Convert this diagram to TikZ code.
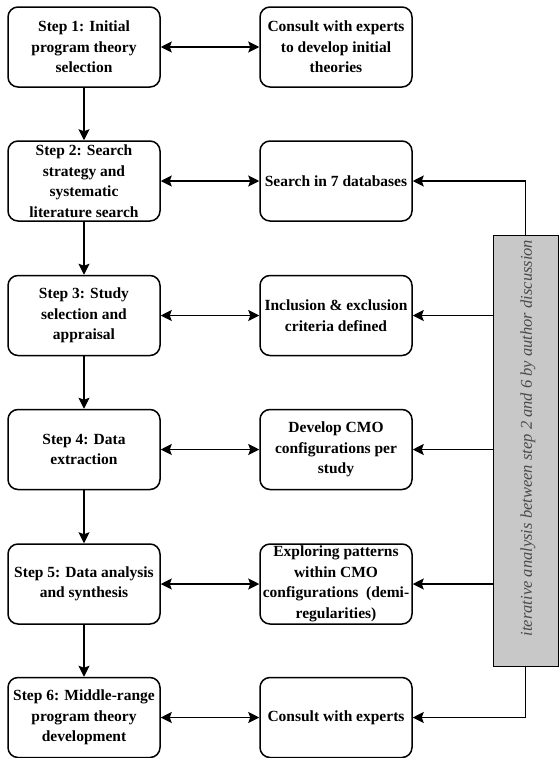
\documentclass[tikz,border=0pt]{standalone}
\usepackage{fontspec}
\setmainfont{Liberation Serif}
\usetikzlibrary{arrows.meta}
\definecolor{sidegray}{HTML}{C8C8C8}
\definecolor{sidetext}{HTML}{4A4A4A}
\tikzset{
  stepbox/.style={draw, line width=1.5pt, rounded corners=10pt, minimum width=152pt,
    minimum height=80pt, align=center, inner sep=1pt,
    font=\fontsize{15.5}{20.5}\selectfont\bfseries},
  link/.style={line width=1.5pt, -{Stealth[length=11pt,width=11pt,inset=2pt]}},
  twoway/.style={line width=1.5pt, {Stealth[length=11pt,width=11pt,inset=2pt]}-{Stealth[length=11pt,width=11pt,inset=2pt]}}
}
\begin{document}
\begin{tikzpicture}[x=1pt,y=-1pt]
      \useasboundingbox (0,0) rectangle (558,758);
      \node[stepbox] (s1) at (84,47) {Step 1: Initial\\program theory\\selection};
      \node[stepbox] (s2) at (84,181) {Step 2: Search\\strategy and\\systematic\\literature search};
      \node[stepbox] (s3) at (84,315.5) {Step 3: Study\\selection and\\appraisal};
      \node[stepbox] (s4) at (84,449.5) {Step 4: Data\\extraction};
      \node[stepbox] (s5) at (84,584) {Step 5: Data analysis\\and synthesis};
      \node[stepbox] (s6) at (84,717.5) {Step 6: Middle-range\\program theory\\development};
      \node[stepbox] (r1) at (336,47) {Consult with experts\\to develop initial\\theories};
      \node[stepbox] (r2) at (336,181) {Search in 7 databases};
      \node[stepbox] (r3) at (336,315.5) {Inclusion \& exclusion\\criteria defined};
      \node[stepbox] (r4) at (336,449.5) {Develop CMO\\configurations per\\study};
      \node[stepbox] (r5) at (336,584) {Exploring patterns\\within CMO\\configurations~ (demi-\\regularities)};
      \node[stepbox] (r6) at (336,717.5) {Consult with experts};
      \node[draw, line width=0.8pt, fill=sidegray, minimum width=65pt, minimum height=431pt,
        inner sep=0pt] (side) at (525.5,450.5) {};
      \node[rotate=90, text=sidetext, font=\fontsize{16.5}{20}\selectfont\itshape] (sidelabel) at (528,438)
        {iterative analysis between step 2 and 6 by author discussion};
      \draw[link] (s1) -- (s2);
      \draw[link] (s2) -- (s3);
      \draw[link] (s3) -- (s4);
      \draw[link] (s4) -- (s5);
      \draw[link] (s5) -- (s6);
      \draw[twoway] (s1) -- (r1);
      \draw[twoway] (s2) -- (r2);
      \draw[twoway] (s3) -- (r3);
      \draw[twoway] (s4) -- (r4);
      \draw[twoway] (s5) -- (r5);
      \draw[twoway] (s6) -- (r6);
      \draw[link] (side.north) |- (r2.east);
      \draw[link] (side.west |- r3) -- (r3.east);
      \draw[link] (side.west |- r4) -- (r4.east);
      \draw[link] (side.west |- r5) -- (r5.east);
      \draw[link] (side.south) |- (r6.east);
\end{tikzpicture}
\end{document}
